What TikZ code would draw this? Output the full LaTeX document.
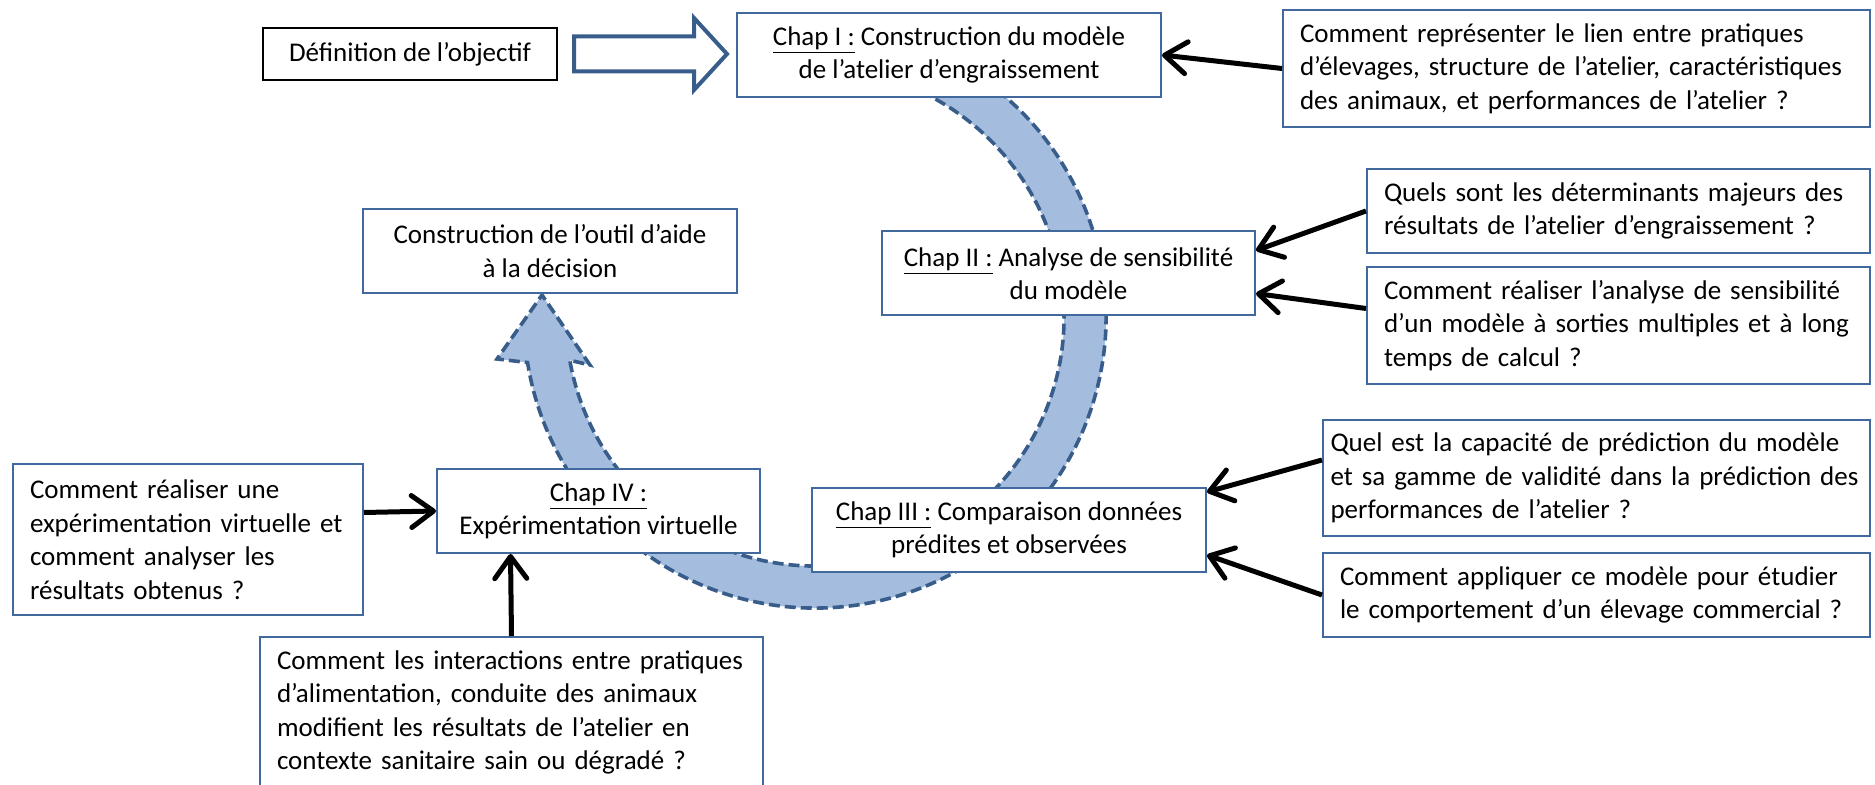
\documentclass[tikz,border=0pt]{standalone}
\usepackage{fontspec}
\setmainfont{Carlito}
\usepackage{tikz}
\usetikzlibrary{arrows.meta,positioning,calc}
\definecolor{boxblue}{RGB}{65,105,158}
\definecolor{bandfill}{RGB}{164,189,222}
\definecolor{bandline}{RGB}{56,93,138}

\begin{document}
\begin{tikzpicture}[x=0.5pt, y=-0.5pt, font=\fontsize{13.5}{16.75}\selectfont]
	\tikzstyle{chapbox} = [rectangle, draw=boxblue, line width=1pt, fill=white, 
	align=center, inner sep=0pt, minimum height=42pt]
	\tikzstyle{question} = [rectangle, draw=boxblue, line width=1pt, fill=white, 
	align=left, inner xsep=8.5pt, inner ysep=0pt]
	\tikzstyle{arrow} = [line width=2.5pt, -{Straight Barb[length=11pt, width=16pt, round]}]
	\tikzstyle{band} = [fill=bandfill, draw=bandline, line width=1.8pt, dash pattern=on 5.5pt off 2.5pt]
	\tikzstyle{blockarrow} = [fill=white, draw=bandline, line width=2pt, line join=miter]
	\useasboundingbox (0,0) rectangle (1875,785);
	\clip (0,0) rectangle (1875,785);
	% cycle of the chapters
	\begin{scope}[shift={(815,317)}]
		\path [band] (-70:291) arc[start angle=-70, end angle=171, radius=291] 
		-- (-318,42) -- (-273,-22) -- (-225,48) -- (170:249) 
		arc[start angle=170, end angle=-70, radius=249] -- cycle;
	\end{scope}
	\node (defn) [rectangle, draw=black, line width=1.2pt, fill=white, minimum width=147pt, 
	minimum height=26pt, inner sep=0pt] at (410,54) {Définition de l’objectif};
	\node (chapI) [chapbox, minimum width=212pt] at (949,55) 
	{\underline{Chap I :} Construction du modèle\\de l’atelier d’engraissement};
	\node (chapII) [chapbox, minimum width=186.5pt] at (1068.5,273.5) 
	{\underline{Chap II :} Analyse de sensibilité\\du modèle};
	\node (chapIII) [chapbox, minimum width=197pt] at (1009,530) 
	{\underline{Chap III :} Comparaison données\\prédites et observées};
	\node (chapIV) [chapbox, minimum width=161.5pt] at (598.5,511) 
	{\underline{Chap IV :}\\Expérimentation virtuelle};
	\node (outil) [chapbox, minimum width=187pt] at (550,251) 
	{Construction de l’outil d’aide\\à la décision};
	\node (q1) [question, text width=276.5pt, minimum height=58.5pt] at (1576.5,68.5) 
	{Comment représenter le lien entre pratiques\\d’élevages, structure de l’atelier, caractéristiques\\des animaux, et performances de l’atelier ?};
	\node (q2) [question, text width=234.5pt, minimum height=42pt] at (1618.5,211) 
	{Quels sont les déterminants majeurs des\\résultats de l’atelier d’engraissement ?};
	\node (q3) [question, text width=234.5pt, minimum height=58.5pt] at (1618.5,325.5) 
	{Comment réaliser l’analyse de sensibilité\\d’un modèle à sorties multiples et à long\\temps de calcul ?};
	\node (q4) [question, inner xsep=3.75pt, text width=266pt, minimum height=58pt] at (1596.5,478) 
	{Quel est la capacité de prédiction du modèle\\et sa gamme de validité dans la prédiction des\\performances de l’atelier ?};
	\node (q5) [question, text width=256.5pt, minimum height=42pt] at (1596.5,595) 
	{Comment appliquer ce modèle pour étudier\\le comportement d’un élevage commercial ?};
	\node (q6) [question, text width=158pt, minimum height=75.5pt] at (188,539.5) 
	{Comment réaliser une\\expérimentation virtuelle et\\comment analyser les\\résultats obtenus ?};
	\node (q7) [question, text width=234.5pt, minimum height=75.5pt] at (511.5,712.5) 
	{Comment les interactions entre pratiques\\d’alimentation, conduite des animaux\\modifient les résultats de l’atelier en\\contexte sanitaire sain ou dégradé ?};
	% block arrow towards chapter I
	\coordinate (tail) at ($(defn.east)+(16,0)$);
	\coordinate (tip) at ($(chapI.west)+(-9,-1)$);
	\draw [blockarrow] ($(tail)+(0,-17.5)$) -- ($(tip)+(-33,-17.5)$) -- ($(tip)+(-33,-36)$) 
	-- (tip) -- ($(tip)+(-33,36)$) -- ($(tip)+(-33,17.5)$) -- ($(tail)+(0,17.5)$) -- cycle;
	\draw [arrow] (q1.west) -- (chapI.east);
	\draw [arrow] (q2.west) -- ($(chapII.east)+(0,-23)$);
	\draw [arrow] ($(q3.west)+(0,-17)$) -- ($(chapII.east)+(0,20)$);
	\draw [arrow] ($(q4.west)+(0,-18)$) -- ($(chapIII.east)+(0,-38)$);
	\draw [arrow] (q5.west) -- ($(chapIII.east)+(0,25)$);
	\draw [arrow] ($(q6.east)+(0,-27)$) -- (chapIV.west);
	\draw [arrow] (q7.north) -- ($(chapIV.south)+(-88,0)$);
\end{tikzpicture}
\end{document}
